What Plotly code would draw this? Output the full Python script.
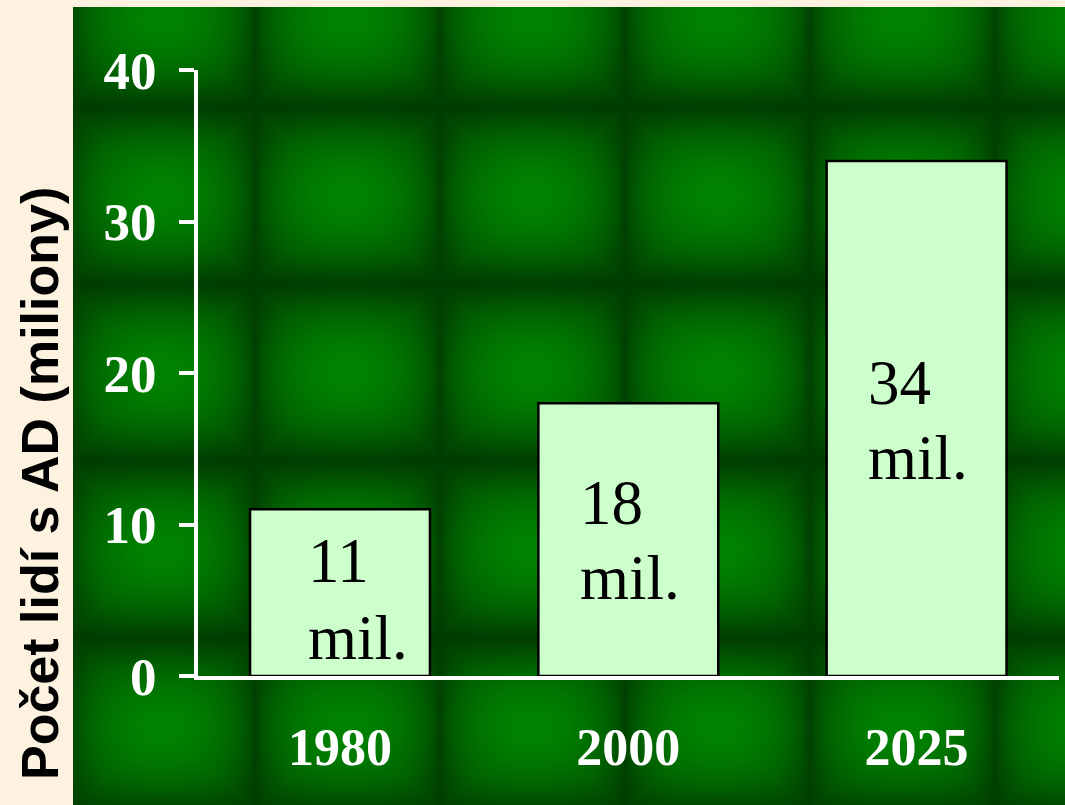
import numpy as np
import plotly.graph_objects as go

# ---------------- data ----------------
years = ["1980", "2000", "2025"]
patients_mil = [11, 18, 34]
label_numbers = ["11", "18", "34"]
label_unit = "mil."
y_ticks = [0, 10, 20, 30, 40]
y_title = "Počet lidí s AD (miliony)"

# ---------------- page geometry ----------------
W, H = 1065, 805

# ---------------- decorative tiled green background ----------------
gx0, gy0 = 73, 7
step = 3
xs = np.arange(gx0, W, step) + step / 2
ys = np.arange(gy0, H, step) + step / 2
tile_w, tile_h = 185, 177
x_off, y_off = 69, 106
ux = ((xs - x_off) % tile_w) / tile_w
uy = ((ys - y_off) % tile_h) / tile_h
gx = np.sin(np.pi * ux) ** 0.55
gy = np.sin(np.pi * uy) ** 1.0
dx = np.abs(ux - 0.5) * 2
dy = np.abs(uy - 0.5) * 2
DX, DY = np.meshgrid(dx, dy)
GX, GY = np.meshgrid(gx, gy)
tex = 0.8 * GX * GY + 0.2 * (1 - np.maximum(DX, DY) ** 2)
tex = np.round(tex, 3)

fig = go.Figure()
fig.add_trace(go.Heatmap(
    x=xs, y=ys, z=tex, xaxis="x", yaxis="y",
    colorscale=[[0, "#003c00"], [0.5, "#006200"], [1, "#008200"]],
    showscale=False, zsmooth="best", hoverinfo="skip",
))

fig.add_trace(go.Bar(
    x=years, y=patients_mil, xaxis="x2", yaxis="y2",
    marker=dict(color="#CCFFCC", line=dict(color="black", width=2.5)),
    width=0.624, hoverinfo="skip",
))

# label placement (pixel rows of line centres) -- layout only
line1_px = [561, 503, 383]
line2_px = [638, 578, 458]
left_px_shift = [-34, -50, -51]
y0_px, y40_px = 676, 70
px_per_unit = (y0_px - y40_px) / 40.0

annotations = []
for i, yr in enumerate(years):
    for txt, py in ((label_numbers[i], line1_px[i]), (label_unit, line2_px[i])):
        annotations.append(dict(
            x=i, y=(y0_px - py) / px_per_unit, xref="x2", yref="y2",
            text=txt, showarrow=False, xanchor="left", yanchor="middle",
            xshift=left_px_shift[i],
            font=dict(family="Liberation Serif, Times New Roman, serif", size=63, color="black"),
        ))

annotations.append(dict(
    x=40 / W, y=1 - 484 / H, xref="paper", yref="paper",
    text=y_title, textangle=-90, showarrow=False,
    xanchor="center", yanchor="middle",
    font=dict(family="Liberation Sans, Arial, sans-serif",
              size=52, color="black", weight="bold"),
))

fig.update_layout(
    template="none",
    width=W, height=H,
    margin=dict(l=0, r=0, t=0, b=0, pad=0),
    paper_bgcolor="#FCF2DF",
    plot_bgcolor="rgba(0,0,0,0)",
    showlegend=False,
    xaxis=dict(domain=[0, 1], range=[0, W], visible=False, fixedrange=True, automargin=False),
    yaxis=dict(domain=[0, 1], range=[H, 0], visible=False, fixedrange=True, automargin=False),
    xaxis2=dict(
        domain=[198 / W, 1059 / W], anchor="y2", type="category", automargin=False,
        range=[-0.4926, 2.494], showgrid=False, zeroline=False,
        showline=True, linecolor="white", linewidth=4, ticks="",
        tickfont=dict(family="Liberation Serif, Times New Roman, serif", size=52,
                      color="white", weight="bold"),
        ticklabelstandoff=23,
    ),
    yaxis2=dict(
        domain=[1 - y0_px / H, 1 - y40_px / H], anchor="x2", automargin=False,
        range=[0, 40], tickvals=y_ticks, showgrid=False, zeroline=False,
        showline=True, linecolor="white", linewidth=4,
        ticks="outside", ticklen=15, tickwidth=4, tickcolor="white",
        tickfont=dict(family="Liberation Serif, Times New Roman, serif", size=53,
                      color="white", weight="bold"),
        ticklabelstandoff=12,
    ),
    annotations=annotations,
)

fig.write_html("out.html")
